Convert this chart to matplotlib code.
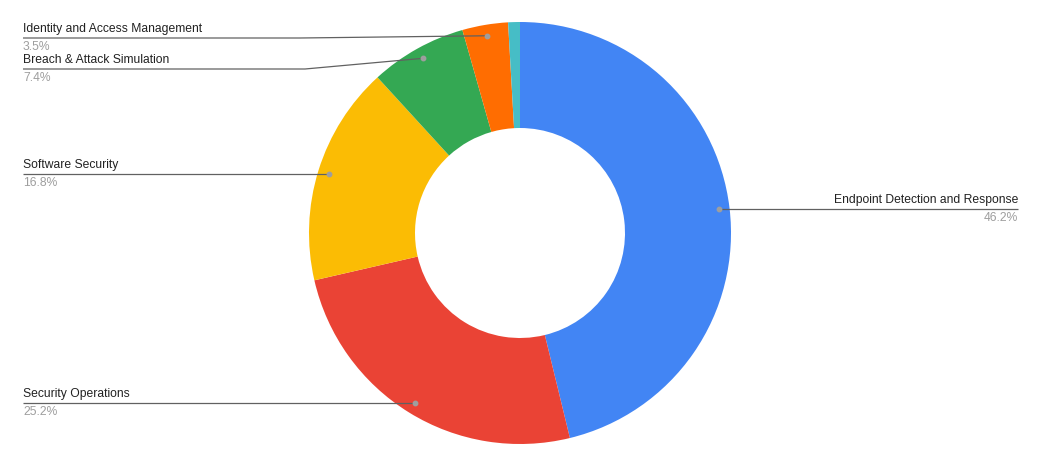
import numpy as np
import matplotlib
matplotlib.use("Agg")
import matplotlib.pyplot as plt

# slices, clockwise from 12 o'clock
categories = ["Endpoint Detection and Response", "Security Operations", "Software Security",
              "Breach & Attack Simulation", "Identity and Access Management", "Other"]
shares = [46.2, 25.2, 16.8, 7.4, 3.5, 0.9]
colors = ["#4285F4", "#EA4335", "#FBBC04", "#34A853", "#FF6D01", "#46BDC6"]

W, H = 1041, 468
fig = plt.figure(figsize=(W / 100, H / 100), dpi=100)
ax = fig.add_axes([0, 0, 1, 1])

cx, cy, R = 520, H - 233, 211
ax.pie(shares, colors=colors, startangle=90, counterclock=False,
       center=(cx, cy), radius=R, frame=True,
       wedgeprops=dict(width=106, linewidth=0))
ax.set_xlim(0, W)
ax.set_ylim(0, H)
ax.set_aspect("equal")
ax.axis("off")

plt.rcParams["font.family"] = ["Liberation Sans", "DejaVu Sans"]

# label layout: (side, line y in pixels from top, elbow x or None)
layout = {
    "Endpoint Detection and Response": ("right", None, None),
    "Security Operations": ("left", None, None),
    "Software Security": ("left", None, None),
    "Breach & Attack Simulation": ("left", 69, 305),
    "Identity and Access Management": ("left", 38, 300),
}

total = sum(shares)
cum = 0
for name, v in zip(categories, shares):
    mid = 90 - 360 * (cum + v / 2) / total
    cum += v
    if name not in layout:
        continue
    side, ly, elbow = layout[name]
    a = np.deg2rad(mid)
    dx, dy = cx + 200 * np.cos(a), cy + 200 * np.sin(a)
    liney = dy if ly is None else H - ly
    if side == "right":
        xs, ys = [dx, 1018], [dy, dy]
        tx, ha = 1018, "right"
    else:
        if elbow is None:
            xs, ys = [23, dx], [liney, dy]
        else:
            xs, ys = [23, elbow, dx], [liney, liney, dy]
        tx, ha = 23, "left"
    ax.plot(xs, ys, color="#616161", lw=0.9, solid_capstyle="butt")
    ax.plot([dx], [dy], "o", color="#9e9e9e", ms=3.2)
    ax.text(tx, liney + 3, name, ha=ha, va="bottom", fontsize=8.7, color="#222222")
    ax.text(tx, liney - 3, f"{v:.1f}%", ha=ha, va="top", fontsize=8.7, color="#9e9e9e")

fig.savefig("out.png", dpi=100)
